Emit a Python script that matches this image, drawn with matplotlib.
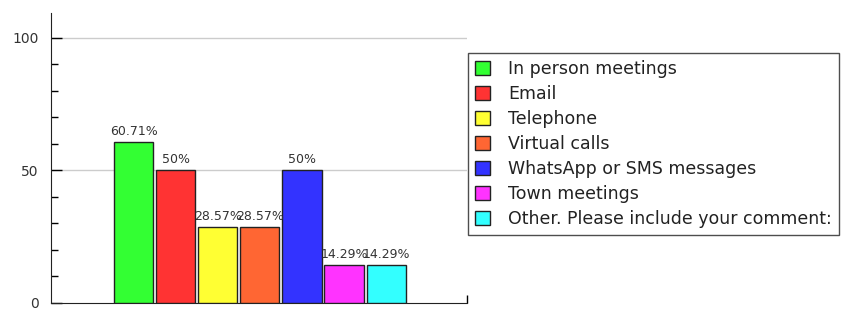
import matplotlib
matplotlib.use("Agg")
from matplotlib import pyplot as plt
from matplotlib.patches import Patch
import numpy as np

# dati
categorie = ["In person meetings", "Email", "Telephone", "Virtual calls",
             "WhatsApp or SMS messages", "Town meetings",
             "Other. Please include your comment:"]
valori = [60.71, 50, 28.57, 28.57, 50, 14.29, 14.29]
etichette = ["60.71%", "50%", "28.57%", "28.57%", "50%", "14.29%", "14.29%"]
colori = ["#33ff33", "#ff3333", "#ffff33", "#ff6633", "#3333ff", "#ff33ff", "#33ffff"]

fig = plt.figure(figsize=(8.44, 3.10), dpi=100)
ax = fig.add_axes([51/844, 7/310, 416/844, 290/310])

x = np.arange(len(valori))
ax.bar(x, valori, width=0.93, color=colori, edgecolor="#222222", linewidth=1, zorder=3)

for xi, v, t in zip(x, valori, etichette):
    ax.annotate(t, (xi, v), xytext=(0, 3), textcoords="offset points",
                ha="center", va="bottom", fontsize=9, color="#333333", zorder=4)

ax.set_xlim(-1.96, 7.92)
ax.set_ylim(0, 109.4)
ax.set_yticks([0, 50, 100])
ax.set_yticks(np.arange(10, 110, 10), minor=True)
ax.tick_params(axis="y", which="major", direction="in", length=8, width=1,
               labelsize=10, labelcolor="#333333", pad=9)
ax.tick_params(axis="y", which="minor", direction="in", length=5, width=1)
ax.set_xticks([7.92])
ax.set_xticklabels([])
ax.tick_params(axis="x", direction="in", length=6, width=1)
for yv in [50, 100]:
    ax.axhline(yv, color="#cccccc", linewidth=1, zorder=1)

# l'etichetta "0" centrata sulle cifre, cosi' non esce dal bordo
ax.get_yticklabels()[0].set_va("center_baseline")

ax.spines["top"].set_visible(False)
ax.spines["right"].set_visible(False)
ax.spines["left"].set_color("#222222")
ax.spines["bottom"].set_color("#222222")

maniglie = [Patch(facecolor=c, edgecolor="#222222", linewidth=1) for c in colori]
leg = fig.legend(maniglie, categorie, loc="upper left",
                 bbox_to_anchor=(468/844, 1 - 53/310), fontsize=12.5,
                 frameon=True, fancybox=False, edgecolor="#222222",
                 handlelength=0.85, handleheight=0.85, handletextpad=1.05,
                 labelspacing=0.4, borderpad=0.4, borderaxespad=0)
leg.get_frame().set_linewidth(1)
for t in leg.get_texts():
    t.set_color("#222222")

fig.savefig("out.png", dpi=100)
